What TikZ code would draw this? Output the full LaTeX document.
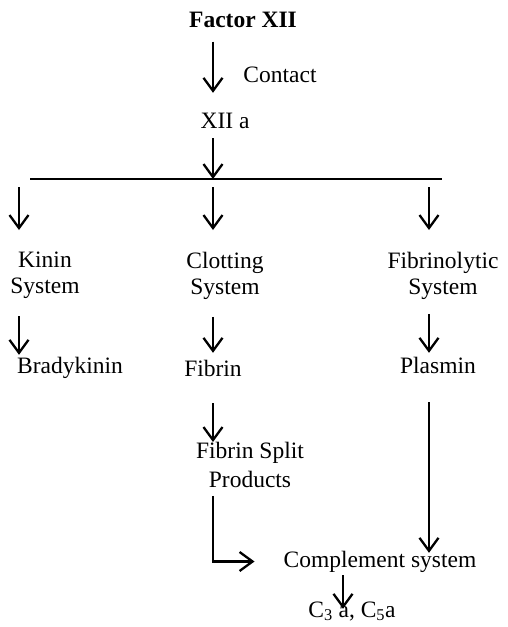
\documentclass[tikz,border=0pt]{standalone}
\usepackage{fontspec}
\setmainfont{Liberation Serif}
\usepackage{tikz}
\usetikzlibrary{arrows.meta, calc, positioning}

\begin{document}
\begin{tikzpicture}[>={Straight Barb[length=13pt,width=19pt]}, x=1pt, y=-1pt,
    font=\fontsize{23.5}{26}\selectfont,
    lbl/.style={inner sep=0pt, text height=16pt, text depth=5pt, anchor=base},
    sys/.style={inner sep=0pt, align=center, anchor=north},
    arr/.style={->, line width=2.3pt}]
    \useasboundingbox (0,0) rectangle (507,627);

    % 1. Các nút chữ
    \node[lbl, font=\fontsize{23.5}{26}\selectfont\bfseries] (factor) at (243,27.5) {Factor XII};
    \node[lbl] (contact) at (280,82) {Contact};
    \node[lbl] (xiia) at (225,128) {XII a};
    \node[sys] (kinin) at (45,252) {Kinin\\System};
    \node[sys] (clot) at (225,252) {Clotting\\System};
    \node[sys] (fibrino) at (443,252) {Fibrinolytic\\System};
    \node[lbl] (brady) at (70,373) {Bradykinin};
    \node[lbl] (fibrin) at (213,376) {Fibrin};
    \node[lbl] (plasmin) at (438,373) {Plasmin};
    \node[sys, font=\fontsize{23.5}{29}\selectfont] (fsp) at (250,442) {Fibrin Split\\Products};
    \node[lbl] (compl) at (380,567) {Complement system};
    \node[lbl] (c35) at (352,617) {C\textsubscript{3} a, C\textsubscript{5}a};

    % Các cột mũi tên và thanh ngang
    \coordinate (colK) at (19,0);
    \coordinate (colM) at (213,0);
    \coordinate (colF) at (429,0);
    \coordinate (colC) at (343,0);
    \coordinate (barL) at (30,179);
    \coordinate (barR) at (442,179);
    \coordinate (barM) at (213,179);

    % 2. Nhánh trên
    \draw[arr, shorten <=9pt, shorten >=19pt] (factor.south -| colM) -- (xiia.north -| colM);
    \draw[arr, shorten <=5pt] (xiia.south -| colM) -- (barM);
    \draw[line width=2.3pt] (barL) -- (barR);

    % Ba mũi tên xuống từ thanh ngang
    \draw[arr, shorten <=8pt, shorten >=22pt] (barM -| colK) -- (kinin.north -| colK);
    \draw[arr, shorten <=8pt, shorten >=22pt] (barM) -- (clot.north -| colM);
    \draw[arr, shorten <=8pt, shorten >=22pt] (barM -| colF) -- (fibrino.north -| colF);

    % 3. Hệ thống -> sản phẩm
    \draw[arr, shorten <=17pt, shorten >=2pt] (kinin.south -| colK) -- (brady.north -| colK);
    \draw[arr, shorten <=17pt, shorten >=7pt] (clot.south -| colM) -- (fibrin.north -| colM);
    \draw[arr, shorten <=14pt, shorten >=4pt] (fibrino.south -| colF) -- (plasmin.north -| colF);

    % 4. Nhánh dưới
    \draw[arr, shorten <=22pt] (fibrin.south -| colM) -- (fsp.north -| colM);
    \draw[arr, shorten <=8pt, shorten >=29pt] (fsp.south -| colM) |- (compl.west);
    \draw[arr, shorten <=24pt, shorten >=-2pt] (plasmin.south -| colF) -- (compl.north -| colF);
    \draw[arr, shorten <=3pt, shorten >=-8pt] (compl.south -| colC) -- (c35.north -| colC);

\end{tikzpicture}
\end{document}
